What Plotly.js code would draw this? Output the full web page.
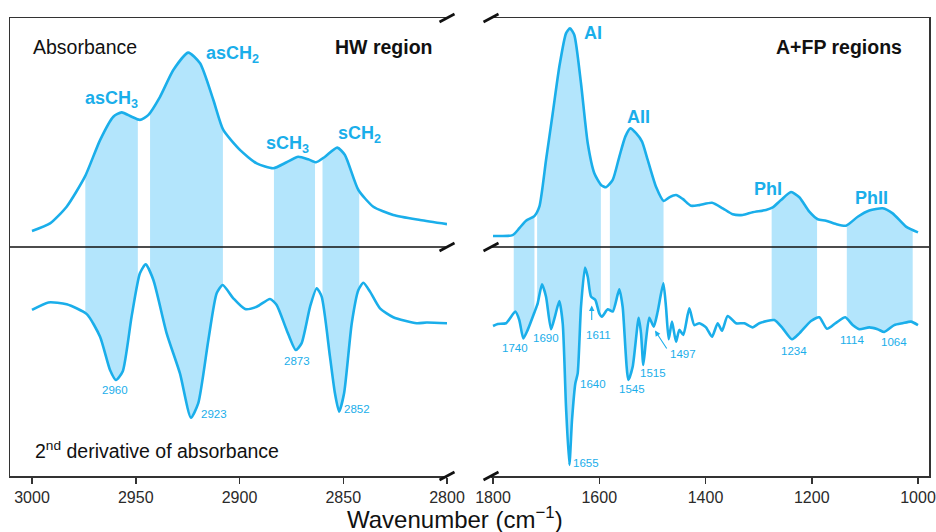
<!DOCTYPE html>
<html>
<head>
<meta charset="utf-8">
<script src="https://cdn.plot.ly/plotly-3.0.1.min.js"></script>
<style>html,body{margin:0;padding:0;background:#fff;}#chart{width:936px;height:532px;}</style>
</head>
<body>
<div id="chart"></div>
<script>
// ---------- DATA (arbitrary units: 0 = middle line, +100 top frame, -100 bottom axis) ----------
// HW region (3000-2800 cm-1): absorbance
const hwAbsX = [3000, 2991.3, 2983.3, 2974.5, 2967.2, 2960.8, 2956.8, 2952, 2948, 2944, 2938.3, 2931.9, 2924.7, 2919, 2912.6, 2907.8, 2899.8, 2891.7, 2883.7, 2877.3, 2871.7, 2866.9, 2863.1, 2858.8, 2852.9, 2849.2, 2842.7, 2835.5, 2825.9, 2813, 2800];
const hwAbsY = [7.0, 10.3, 17.6, 30.7, 46.7, 56.9, 58.8, 56.9, 55.5, 57.6, 65.6, 77.3, 84.9, 80.2, 64.2, 51.1, 42.4, 36.5, 34.4, 37.0, 39.4, 38.3, 37.0, 39.4, 43.4, 40.2, 24.9, 17.6, 14.0, 11.8, 10.0];
// HW region: 2nd derivative
const hwDerX = [3000, 2992.1, 2983.3, 2973.6, 2967.2, 2962.4, 2959.5, 2956.3, 2952, 2948, 2945.2, 2941.5, 2935.1, 2928.7, 2923.4, 2919.9, 2915, 2911, 2908.1, 2903, 2897.3, 2891.7, 2885.3, 2882.1, 2877.3, 2872.9, 2870.1, 2866, 2862.8, 2860.4, 2856.4, 2854, 2852, 2849.6, 2845.9, 2842.7, 2840.3, 2837.1, 2832.3, 2825.9, 2814.6, 2809.8, 2800];
const hwDerY = [-27.5, -24.2, -25.0, -29.3, -39.2, -53.7, -58.1, -54.4, -30.4, -11.5, -7.6, -14.4, -37.7, -55.2, -74.5, -68.3, -40.6, -20.2, -16.6, -22.4, -27.1, -26.1, -22.7, -25.3, -36.2, -45.0, -42.1, -26.1, -18.0, -21.7, -47.9, -63.9, -71.9, -63.9, -33.3, -18.8, -15.6, -19.5, -26.8, -30.7, -33.3, -33.0, -33.3];
// A+FP regions (1800-1000 cm-1): absorbance
const faAbsX = [1800, 1763, 1750.4, 1737.9, 1722.2, 1712.8, 1700.2, 1687.6, 1675.2, 1662.6, 1655.1, 1647, 1634.4, 1621.7, 1609.3, 1596.7, 1587.3, 1574.7, 1562.3, 1551, 1541.5, 1530.8, 1519.5, 1508.8, 1493.2, 1478.7, 1468.1, 1455.5, 1443, 1427.3, 1411.7, 1387.8, 1367.6, 1348.8, 1330, 1311.2, 1286.1, 1273.5, 1257.9, 1239.1, 1223.4, 1204.6, 1188.8, 1173.2, 1154.4, 1135.5, 1113.5, 1091.7, 1066.5, 1047.7, 1022.6, 1000];
const faAbsY = [4.8, 5.2, 8.2, 11.5, 13.5, 17.6, 38.0, 58.4, 78.7, 93.3, 95.5, 92.6, 71.5, 45.3, 32.2, 27.1, 26.1, 29.3, 39.4, 48.2, 51.8, 49.7, 46.0, 38.0, 26.3, 20.1, 21.7, 22.7, 21.0, 18.0, 18.3, 19.3, 16.9, 14.3, 14.0, 15.2, 16.2, 17.3, 20.5, 24.0, 21.7, 15.4, 12.1, 11.5, 10.0, 9.3, 13.2, 15.9, 16.9, 14.7, 8.9, 6.4];
// A+FP regions: 2nd derivative
const faDerX = [1800, 1791, 1775.5, 1758, 1750.5, 1743, 1734.7, 1722.3, 1715.9, 1707.8, 1700.2, 1690.8, 1682.7, 1675.2, 1668.8, 1662.6, 1656.3, 1651.3, 1645, 1640.6, 1634.4, 1626.8, 1621.7, 1615.5, 1607.4, 1600, 1594.9, 1584.1, 1574.7, 1562.3, 1556, 1545.3, 1537.1, 1525.8, 1521.4, 1517.1, 1512, 1505.8, 1497.5, 1490, 1479.4, 1474.4, 1469.3, 1463.1, 1455.5, 1449.3, 1441.8, 1430.5, 1421.1, 1411.7, 1399.1, 1387.8, 1377.1, 1369, 1358.3, 1342.6, 1327, 1311.2, 1298.7, 1270.5, 1254.7, 1237.2, 1223.4, 1201.4, 1185.8, 1171.3, 1154.4, 1136.9, 1123, 1110.5, 1091.7, 1076, 1063.5, 1044.7, 1029, 1013.3, 1000];
const faDerY = [-34.5, -33.6, -33.3, -28.2, -31.9, -39.9, -36.2, -28.7, -24.6, -16.3, -21.7, -35.9, -29.7, -23.6, -33.3, -69.7, -95.2, -75.5, -59.5, -55.2, -26.1, -9.0, -13.0, -21.7, -23.1, -29.0, -30.4, -27.2, -28.2, -18.5, -26.1, -58.1, -52.3, -30.9, -37.7, -51.5, -40.6, -30.9, -34.8, -28.2, -15.9, -26.1, -40.3, -32.6, -41.4, -36.2, -38.4, -26.8, -34.1, -33.3, -35.1, -39.2, -33.3, -36.6, -30.1, -33.3, -33.3, -35.1, -33.3, -31.9, -35.5, -40.3, -37.7, -32.3, -30.7, -35.7, -33.1, -30.7, -34.1, -35.9, -35.1, -35.9, -37.1, -34.1, -33.3, -32.6, -34.1];

// shaded band limits (cm-1)
const hwBands = [[2974.3, 2949], [2943.1, 2908], [2883.4, 2863.6], [2860, 2842.3]];
const faBands = [[1761, 1722], [1717, 1597], [1580, 1479], [1275.5, 1190], [1134, 1010]];

// labels
const hwBandNames = ['asCH<sub>3</sub>', 'asCH<sub>2</sub>', 'sCH<sub>3</sub>', 'sCH<sub>2</sub>'];
const faBandNames = ['AI', 'AII', 'PhI', 'PhII'];
const hwPeaks = ['2960', '2923', '2873', '2852'];
const faPeaks = ['1740', '1690', '1611', '1640', '1655', '1545', '1515', '1497', '1234', '1114', '1064'];
const hwTicks = [3000, 2950, 2900, 2850, 2800];
const faTicks = [1800, 1600, 1400, 1200, 1000];

// ---------- STYLE ----------
const BLUE = '#1aaeea';
const FILL = '#b3e5fc';
const DARK = '#2a2a2a';
const FONT = 'Liberation Sans, Arial, Helvetica, sans-serif';

function interp(xs, ys, x) {
  for (let i = 0; i < xs.length - 1; i++) {
    const a = xs[i], b = xs[i + 1];
    if ((x <= a && x >= b) || (x >= a && x <= b)) {
      const t = (x - a) / (b - a);
      return ys[i] + t * (ys[i + 1] - ys[i]);
    }
  }
  return ys[ys.length - 1];
}
function segment(xs, ys, hi, lo) {
  const px = [hi], py = [interp(xs, ys, hi)];
  for (let i = 0; i < xs.length; i++) {
    if (xs[i] < hi && xs[i] > lo) { px.push(xs[i]); py.push(ys[i]); }
  }
  px.push(lo); py.push(interp(xs, ys, lo));
  return [px, py];
}
function bandTrace(absX, absY, derX, derY, band, xa, ya) {
  const [ax, ay] = segment(absX, absY, band[0], band[1]);
  const [dx, dy] = segment(derX, derY, band[0], band[1]);
  return {
    x: ax.concat(dx.slice().reverse()),
    y: ay.concat(dy.slice().reverse()),
    xaxis: xa, yaxis: ya, type: 'scatter', mode: 'lines',
    fill: 'toself', fillcolor: FILL, line: {width: 0, color: FILL},
    hoverinfo: 'skip'
  };
}

const traces = [];
hwBands.forEach(b => traces.push(bandTrace(hwAbsX, hwAbsY, hwDerX, hwDerY, b, 'x', 'y')));
faBands.forEach(b => traces.push(bandTrace(faAbsX, faAbsY, faDerX, faDerY, b, 'x2', 'y2')));
function curve(x, y, xa, ya) {
  return {x: x, y: y, xaxis: xa, yaxis: ya, type: 'scatter', mode: 'lines',
    line: {color: BLUE, width: 2.6, shape: 'spline', smoothing: 0.6}, hoverinfo: 'skip'};
}
traces.push(curve(hwAbsX, hwAbsY, 'x', 'y'));
traces.push(curve(hwDerX, hwDerY, 'x', 'y'));
traces.push(curve(faAbsX, faAbsY, 'x2', 'y2'));
traces.push(curve(faDerX, faDerY, 'x2', 'y2'));

// ---------- ANNOTATIONS ----------
const ann = [];
function txt(xa, ya, x, y, text, size, color, anchor, bold) {
  ann.push({xref: xa, yref: ya, x: x, y: y, text: bold ? '<b>' + text + '</b>' : text,
    showarrow: false, xanchor: anchor || 'center', yanchor: 'middle',
    font: {family: FONT, size: size, color: color}});
}
// panel titles
txt('x', 'y', 3000.5, 87.3, 'Absorbance', 19.5, '#111', 'left', false);
txt('x', 'y', 2805.8, 87.3, 'HW region', 19.5, '#111', 'right', true);
txt('x2', 'y2', 1026.4, 87.3, 'A+FP regions', 19.5, '#111', 'right', true);
txt('x', 'y', 2999.5, -88.5, '2<sup>nd</sup> derivative of absorbance', 19.5, '#111', 'left', false);
// band names
const hwNamePos = [[2975.4, 64.6], [2917.1, 84.2], [2888.4, 44.9], [2853.3, 49.3]];
hwBandNames.forEach((t, i) => txt('x', 'y', hwNamePos[i][0], hwNamePos[i][1], t, 18, BLUE, 'left', true));
const faNamePos = [[1632.5, 93.4], [1551.5, 56.8], [1312.5, 25.3], [1122.4, 21.4]];
faBandNames.forEach((t, i) => txt('x2', 'y2', faNamePos[i][0], faNamePos[i][1], t, 18, BLUE, 'left', true));
txt('x2', 'y2', 1837.6, 20.5, 'C=O', 18, BLUE, 'left', true);
txt('x2', 'y2', 1837.6, 13.1, 'ester', 18, BLUE, 'left', true);
// derivative peak labels
const hwPeakPos = [[2960, -62.4], [2912.3, -72.9], [2872.5, -49.8], [2843.6, -70.7]];
hwPeaks.forEach((t, i) => txt('x', 'y', hwPeakPos[i][0], hwPeakPos[i][1], t, 11.5, BLUE, 'center', false));
const faPeakPos = [[1758, -44.2], [1700.2, -39.6], [1601.8, -38.4], [1611.2, -59.8], [1625, -94.2],
  [1539, -62], [1498.3, -54.9], [1443, -46.9], [1232.8, -45.4], [1124.2, -40.6], [1045.8, -41.4]];
faPeaks.forEach((t, i) => txt('x2', 'y2', faPeakPos[i][0], faPeakPos[i][1], t, 11.5, BLUE, 'center', false));
// arrows
function arrow(x, y, axv, ayv) {
  ann.push({xref: 'x2', yref: 'y2', axref: 'x2', ayref: 'y2', x: x, y: y, ax: axv, ay: ayv, text: '',
    showarrow: true, arrowhead: 2, arrowsize: 1, arrowwidth: 1.1, arrowcolor: BLUE, standoff: 0, startstandoff: 0});
}
arrow(1614.2, -25.5, 1614.2, -32.5);
arrow(1495.1, -36.5, 1471.2, -45.0);
// x axis title
ann.push({xref: 'paper', yref: 'paper', x: 455 / 936, y: 1 - 517.5 / 532, xanchor: 'center', yanchor: 'middle',
  text: 'Wavenumber (cm<sup>\u22121</sup>)', showarrow: false, font: {family: FONT, size: 24, color: '#111'}});

// ---------- SHAPES ----------
const shapes = [
  {type: 'line', xref: 'x domain', yref: 'y', x0: 0, x1: 1, y0: 0, y1: 0, line: {color: '#111', width: 1.6}},
  {type: 'line', xref: 'x2 domain', yref: 'y2', x0: 0, x1: 1, y0: 0, y1: 0, line: {color: '#111', width: 1.6}}
];
[18, 247, 476].forEach(py => {
  [447, 491].forEach(cx => {
    shapes.push({type: 'line', xref: 'paper', yref: 'paper',
      x0: (cx - 7.5) / 936, x1: (cx + 7.5) / 936, y0: 1 - (py + 4) / 532, y1: 1 - (py - 4) / 532,
      line: {color: '#111', width: 2.6}});
  });
});

const axisCommon = {showline: true, linecolor: '#333', linewidth: 1.5, showgrid: false, zeroline: false};
const layout = {
  width: 936, height: 532, margin: {l: 0, r: 0, t: 0, b: 0},
  paper_bgcolor: '#fff', plot_bgcolor: '#fff', showlegend: false,
  font: {family: FONT},
  xaxis: Object.assign({}, axisCommon, {domain: [10 / 936, 447 / 936], range: [3010.6, 2800], mirror: true,
    anchor: 'y', ticks: 'outside', ticklen: 6, tickwidth: 1.5, tickcolor: '#333', tickvals: hwTicks,
    tickfont: {size: 16, color: DARK, family: FONT}}),
  yaxis: Object.assign({}, axisCommon, {domain: [56 / 532, 514 / 532], range: [-100, 100], anchor: 'x',
    showticklabels: false, ticks: ''}),
  xaxis2: Object.assign({}, axisCommon, {domain: [491 / 936, 929 / 936], range: [1803.8, 979.3], mirror: true,
    anchor: 'y2', ticks: 'outside', ticklen: 6, tickwidth: 1.5, tickcolor: '#333', tickvals: faTicks,
    tickfont: {size: 16, color: DARK, family: FONT}}),
  yaxis2: Object.assign({}, axisCommon, {domain: [56 / 532, 514 / 532], range: [-100, 100], anchor: 'x2',
    side: 'right', showticklabels: false, ticks: ''}),
  annotations: ann,
  shapes: shapes
};
Plotly.newPlot('chart', traces, layout, {staticPlot: true, displayModeBar: false});
</script>
</body>
</html>
